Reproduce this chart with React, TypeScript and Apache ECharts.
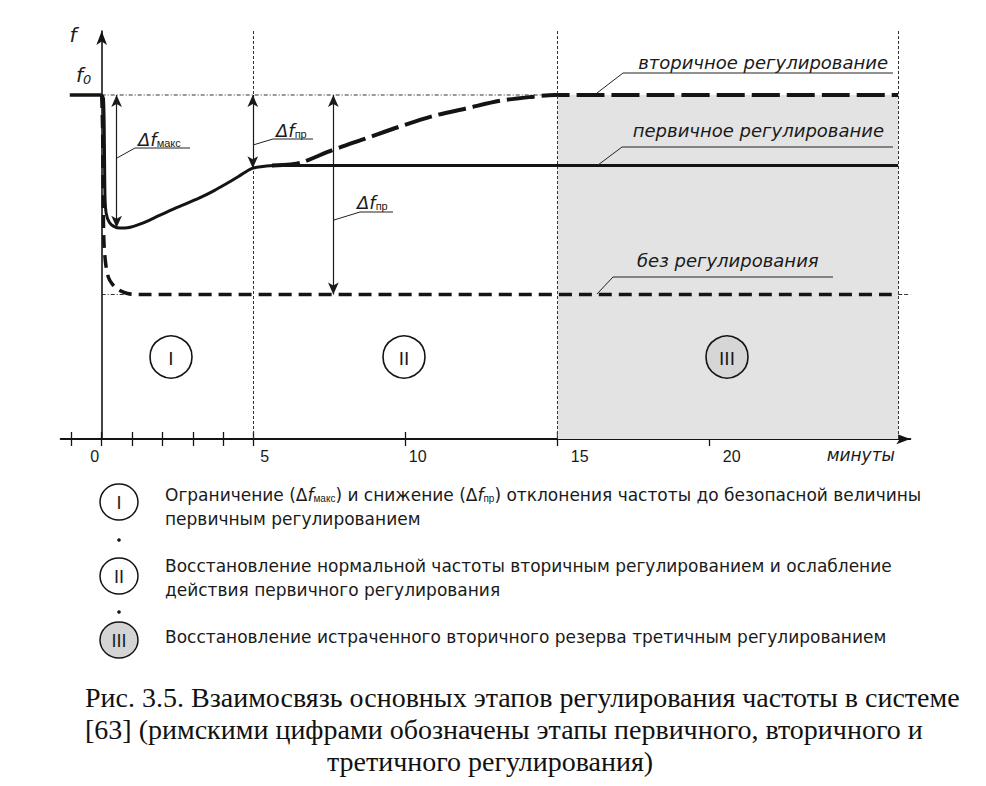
import React, { useEffect, useRef } from "react";
import * as echarts from "echarts";

// ---- data (minutes, frequency in arbitrary units, f0 = 100) ----
const xTickValues = [-1, 0, 1, 2, 3, 4, 5, 10, 15, 20];
const xLabelValues = [0, 5, 10, 15, 20];
const F0 = 100;
const preDisturbance = [[-1.05, 100], [0, 100]];
const primaryRegulation = [
  [0, 100], [0.06, 99], [0.09, 85], [0.11, 70], [0.15, 65.5], [0.25, 63], [0.4, 61.8],
  [0.6, 61.3], [0.85, 61.4], [1.3, 62.6], [1.9, 65.0], [2.5, 67.4], [3.2, 70.0],
  [3.7, 72.2], [4.1, 74.2], [4.5, 76.3], [4.93, 78.6], [5.3, 79.2], [5.7, 79.5], [26.2, 79.5],
];
const secondaryRegulation = [
  [5.6, 79.5], [6.2, 79.8], [6.55, 80.3], [7.6, 84.0], [8.7, 87.4], [9.8, 90.8],
  [10.9, 93.9], [12.0, 96.1], [13.1, 98.3], [14.2, 99.5], [14.9, 100], [26.2, 100],
];
const noRegulation = [
  [0, 100], [0.03, 90], [0.05, 70], [0.07, 58], [0.13, 51], [0.22, 47], [0.35, 45],
  [0.55, 43.4], [0.85, 42.3], [1.2, 42], [26.2, 42],
];
const noRegulationRef = [[0, 42], [0.9, 42]];
const noRegulationTail = [[26.2, 42], [26.6, 42]];
const f0Ref = [[0, 100], [14.9, 100]];
const phaseBounds = [5, 15, 26.2];
const tertiaryZone = [15, 26.2];
const deltaArrows = [
  { x: 0.49, from: 100, to: 61.4 },
  { x: 4.97, from: 100, to: 78.7 },
  { x: 7.62, from: 100, to: 42 },
];
const phaseLabels = ["I", "II", "III"];
const legendTexts = [
  ["Ограничение (Δ{i|f}{sub|макс}) и снижение (Δ{i|f}{sub|пр}) отклонения частоты до безопасной величины", "первичным регулированием"],
  ["Восстановление нормальной частоты вторичным регулированием и ослабление", "действия первичного регулирования"],
  ["Восстановление истраченного вторичного резерва третичным регулированием"],
];
const captionLines = [
  "Рис. 3.5. Взаимосвязь основных этапов регулирования частоты в системе",
  "[63] (римскими цифрами обозначены этапы первичного, вторичного и",
  "третичного регулирования)",
];

const INK = "#141414";
const SANS = '"Liberation Sans", Arial, sans-serif';
const WIDE = '"DejaVu Sans", sans-serif';
const ITAL = '"DejaVu Sans", sans-serif';

export default function App() {
  const ref = useRef<HTMLDivElement>(null);
  useEffect(() => {
    document.body.style.margin = "0";
    const chart = echarts.init(ref.current!, null, { renderer: "svg" });

    const labelPad: Record<string, any> = {
      l0: { padding: [0, 14, 0, 0] },
      l5: { padding: [0, 0, 0, 22] },
      l10: { padding: [0, 0, 0, 24] },
      l15: { padding: [0, 0, 0, 44] },
      l20: { padding: [0, 0, 0, 44] },
    };

    const text = (x: number, y: number, t: string, extra: any = {}) => ({
      type: "text",
      z: 100,
      x,
      y,
      style: {
        text: t,
        fill: "#1a1a1a",
        fontFamily: SANS,
        fontSize: 16,
        textAlign: "left",
        textVerticalAlign: "middle",
        ...extra,
      },
    });
    const poly = (pts: number[][], w = 1) => ({
      type: "polyline",
      z: 100,
      shape: { points: pts },
      style: { stroke: "#222", lineWidth: w, fill: null },
    });

    const deltaRich = {
      i: { fontStyle: "italic", fontSize: 18, fontFamily: ITAL },
      sub: { fontSize: 11, fontFamily: SANS, verticalAlign: "bottom", padding: [8, 0, 0, 0] },
    };

    const graphic: any[] = [
      // axis names
      text(73, 35, "f", { fontStyle: "italic", fontSize: 20, fontFamily: ITAL, textAlign: "center" }),
      text(76, 75, "{i|f}{s|0}", {
        rich: {
          i: { fontStyle: "italic", fontSize: 20, fontFamily: ITAL },
          s: { fontStyle: "italic", fontSize: 13, fontFamily: ITAL, padding: [8, 0, 0, 0] },
        },
      }),
      text(895, 455, "минуты", { fontStyle: "italic", fontSize: 17, fontFamily: ITAL, textAlign: "right" }),
      // Δf labels with leaders
      text(138, 139, "Δ{i|f}{sub|макс}", { fontSize: 18, fontFamily: ITAL, fontStyle: "italic", rich: deltaRich }),
      poly([[117, 158], [135, 148], [190, 148]]),
      text(276, 130, "Δ{i|f}{sub|пр}", { fontSize: 18, fontFamily: ITAL, fontStyle: "italic", rich: deltaRich }),
      poly([[253, 145], [273, 139], [313, 139]]),
      text(357, 202, "Δ{i|f}{sub|пр}", { fontSize: 18, fontFamily: ITAL, fontStyle: "italic", rich: deltaRich }),
      poly([[334, 220], [360, 212], [393, 212]]),
      // curve annotations
      text(888, 62, "вторичное регулирование", { fontStyle: "italic", fontSize: 18, fontFamily: ITAL, textAlign: "right" }),
      poly([[597, 93], [623, 73], [893, 73]]),
      text(884, 130, "первичное регулирование", { fontStyle: "italic", fontSize: 18, fontFamily: ITAL, textAlign: "right" }),
      poly([[598, 165], [622, 147], [893, 147]]),
      text(637, 260, "без регулирования", { fontStyle: "italic", fontSize: 18, fontFamily: ITAL }),
      poly([[597, 294], [613, 277], [833, 277]]),
    ];

    // phase circles in the plot
    const phaseCx = [171, 404, 727];
    phaseLabels.forEach((lab, i) => {
      graphic.push({
        type: "circle",
        z: 100,
        shape: { cx: phaseCx[i], cy: 357, r: 21 },
        style: { fill: i === 2 ? "#d6d6d6" : "#ffffff", stroke: INK, lineWidth: 1.6 },
      });
      graphic.push(text(phaseCx[i], 358, lab, { fontSize: 19, textAlign: "center", fontFamily: SANS }));
    });

    // legend block
    const legendCy = [502, 576, 640];
    const legendLineY = [[495, 519], [566, 590], [637]];
    phaseLabels.forEach((lab, i) => {
      graphic.push({
        type: "ellipse",
        z: 100,
        shape: { cx: 119, cy: legendCy[i], rx: 19, ry: 18 },
        style: { fill: i === 2 ? "#d4d4d4" : "#ffffff", stroke: INK, lineWidth: 1.5 },
      });
      graphic.push(text(119, legendCy[i] + 1, lab, { fontSize: 18, textAlign: "center" }));
      legendTexts[i].forEach((line, j) => {
        graphic.push(
          text(165, legendLineY[i][j], line, {
            fontSize: 17,
            fontFamily: WIDE,
            rich: {
              i: { fontStyle: "italic", fontSize: 17, fontFamily: WIDE },
              sub: { fontSize: 10, fontFamily: SANS, padding: [7, 0, 0, 0] },
            },
          })
        );
      });
    });
    [540, 612].forEach((cy) =>
      graphic.push({ type: "circle", z: 100, shape: { cx: 119, cy, r: 1.8 }, style: { fill: INK } })
    );

    // caption: first two lines justified from the left margin, last line centred
    captionLines.forEach((line, i) => {
      const last = i === captionLines.length - 1;
      graphic.push(
        text(last ? 490 : 85, 697 + i * 32, line, {
          fontFamily: '"Liberation Serif", "Times New Roman", serif',
          fontSize: 28,
          textAlign: last ? "center" : "left",
          fill: "#111",
        })
      );
    });

    const option: any = {
      animation: false,
      backgroundColor: "#ffffff",
      grid: { left: 60.66, right: 75.7, top: 31, bottom: 347, containLabel: false },
      xAxis: [
        {
          type: "value",
          min: -1.35,
          max: 26.6,
          splitLine: { show: false },
          axisLine: {
            show: true,
            onZero: false,
            symbol: ["none", "arrow"],
            symbolSize: [8, 14],
            lineStyle: { color: INK, width: 2 },
          },
          axisTick: { show: true, customValues: xTickValues, length: 7, lineStyle: { color: INK, width: 1.3 } },
          axisLabel: {
            show: true,
            customValues: xLabelValues,
            margin: 9,
            color: "#1a1a1a",
            fontSize: 16,
            fontFamily: SANS,
            formatter: (v: number) => `{l${v}|${v}}`,
            rich: labelPad,
          },
        },
        {
          type: "value",
          min: -1.35,
          max: 26.6,
          position: "bottom",
          offset: 0,
          splitLine: { show: false },
          axisLine: { show: false, onZero: false },
          axisTick: {
            show: true,
            inside: true,
            customValues: xTickValues,
            length: 7,
            lineStyle: { color: INK, width: 1.3 },
          },
          axisLabel: { show: false },
        },
      ],
      yAxis: {
        type: "value",
        min: 0,
        max: 118.6,
        splitLine: { show: false },
        axisTick: { show: false },
        axisLabel: { show: false },
        axisLine: {
          show: true,
          onZero: true,
          symbol: ["none", "arrow"],
          symbolSize: [8, 14],
          lineStyle: { color: INK, width: 1.6 },
        },
      },
      series: [
        {
          name: "zones",
          type: "line",
          data: [],
          silent: true,
          z: 1,
          markArea: {
            silent: true,
            itemStyle: { color: "#e3e3e3" },
            data: [[{ coord: [tertiaryZone[0], 0] }, { coord: [tertiaryZone[1], F0] }]],
          },
          markLine: {
            silent: true,
            symbol: ["none", "none"],
            label: { show: false },
            lineStyle: { color: "#333", width: 1, type: [3, 2] },
            data: phaseBounds.map((b) => [{ coord: [b, 0] }, { coord: [b, 118.6] }]),
          },
        },
        {
          name: "f0 ref",
          type: "line",
          data: f0Ref,
          showSymbol: false,
          z: 2,
          lineStyle: { color: "#333", width: 1, type: [4, 2, 1, 2] },
        },
        {
          name: "ref low",
          type: "line",
          data: noRegulationRef,
          showSymbol: false,
          z: 2,
          lineStyle: { color: "#333", width: 1, type: [4, 2, 1, 2] },
        },
        {
          name: "ref tail",
          type: "line",
          data: noRegulationTail,
          showSymbol: false,
          z: 2,
          lineStyle: { color: "#333", width: 1, type: [4, 2] },
        },
        {
          name: "до возмущения",
          type: "line",
          data: preDisturbance,
          showSymbol: false,
          z: 4,
          lineStyle: { color: INK, width: 3.5 },
        },
        {
          name: "без регулирования",
          type: "line",
          data: noRegulation,
          showSymbol: false,
          smooth: 0.3,
          z: 4,
          lineStyle: { color: INK, width: 3.5, type: [13, 7] },
        },
        {
          name: "вторичное регулирование",
          type: "line",
          data: secondaryRegulation,
          showSymbol: false,
          smooth: 0.3,
          z: 4,
          lineStyle: { color: INK, width: 4, type: [28, 7] },
        },
        {
          name: "первичное регулирование",
          type: "line",
          data: primaryRegulation,
          showSymbol: false,
          smooth: 0.3,
          z: 5,
          lineStyle: { color: INK, width: 3 },
          markLine: {
            silent: true,
            symbol: ["arrow", "arrow"],
            symbolSize: [8, 12],
            label: { show: false },
            lineStyle: { color: "#1a1a1a", width: 1.2, type: "solid" },
            data: deltaArrows.map((a) => [{ coord: [a.x, a.from] }, { coord: [a.x, a.to] }]),
          },
        },
      ],
      graphic,
    };
    chart.setOption(option);
    return () => chart.dispose();
  }, []);
  return <div ref={ref} style={{ position: "absolute", left: 0, top: 0, width: 986, height: 786 }} />;
}
